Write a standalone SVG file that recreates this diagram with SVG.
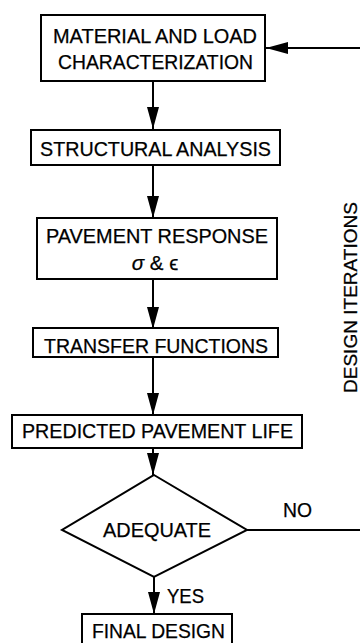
<svg xmlns="http://www.w3.org/2000/svg" width="360" height="643" viewBox="0 0 360 643">
<defs>
<marker id="ah" markerUnits="userSpaceOnUse" markerWidth="22" markerHeight="12" refX="22" refY="6" orient="auto">
<path d="M0,0 L22,6 L0,12 z" fill="#000"/>
</marker>
<style>
.box{fill:#fff;stroke:#000;stroke-width:2}
.t{font-family:"Liberation Sans",Arial,sans-serif;font-size:20.5px;fill:#000;stroke:#000;stroke-width:0.25;text-anchor:middle}
.l{font-family:"Liberation Sans",Arial,sans-serif;font-size:20.5px;fill:#000;stroke:#000;stroke-width:0.25}
.c{stroke:#000;stroke-width:2;fill:none}
.a{marker-end:url(#ah)}
</style>
</defs>
<rect width="360" height="643" fill="#fff"/>
<g id="connectors">
<line class="c a" x1="153" y1="81" x2="153" y2="129"/>
<line class="c a" x1="153" y1="165" x2="153" y2="218"/>
<line class="c a" x1="153" y1="279" x2="153" y2="329"/>
<line class="c a" x1="153" y1="357" x2="153" y2="415"/>
<line class="c a" x1="153" y1="448" x2="153" y2="475"/>
<line class="c a" x1="154" y1="577" x2="154" y2="614"/>
<line class="c" x1="247" y1="530" x2="362" y2="530"/>
<line class="c a" x1="362" y1="48" x2="266" y2="48"/>
<text class="l" x="283" y="517" textLength="29" lengthAdjust="spacingAndGlyphs">NO</text>
<text class="l" x="167" y="603" textLength="37" lengthAdjust="spacingAndGlyphs">YES</text>
<text class="t" transform="translate(357,297.5) rotate(-90)" style="font-size:17.5px" textLength="191" lengthAdjust="spacingAndGlyphs">DESIGN ITERATIONS</text>
</g>
<g id="material">
<rect class="box" x="41" y="15" width="224" height="66"/>
<text class="t" x="155" y="43" textLength="204" lengthAdjust="spacingAndGlyphs">MATERIAL AND LOAD</text>
<text class="t" x="155.5" y="69" textLength="195" lengthAdjust="spacingAndGlyphs">CHARACTERIZATION</text>
</g>
<g id="structural">
<rect class="box" x="31" y="130" width="249" height="35"/>
<text class="t" x="155.5" y="156" textLength="231" lengthAdjust="spacingAndGlyphs">STRUCTURAL ANALYSIS</text>
</g>
<g id="response">
<rect class="box" x="37" y="218" width="240" height="61"/>
<text class="t" x="157" y="243" textLength="222" lengthAdjust="spacingAndGlyphs">PAVEMENT RESPONSE</text>
<text class="t" x="155" y="270"><tspan font-style="italic">σ</tspan> &amp; ϵ</text>
</g>
<g id="transfer">
<rect class="box" x="33" y="328" width="245" height="29"/>
<text class="t" x="156" y="353" textLength="224" lengthAdjust="spacingAndGlyphs">TRANSFER FUNCTIONS</text>
</g>
<g id="life">
<rect class="box" x="12" y="415" width="290" height="33"/>
<text class="t" x="157.5" y="438" textLength="271" lengthAdjust="spacingAndGlyphs">PREDICTED PAVEMENT LIFE</text>
</g>
<g id="adequate">
<polygon class="box" points="154,475 247,530 154,577 62,530"/>
<text class="t" x="157" y="537" textLength="108" lengthAdjust="spacingAndGlyphs">ADEQUATE</text>
</g>
<g id="final">
<rect class="box" x="82" y="614" width="150" height="50"/>
<text class="t" x="158.5" y="638" textLength="133" lengthAdjust="spacingAndGlyphs">FINAL DESIGN</text>
</g>
</svg>
